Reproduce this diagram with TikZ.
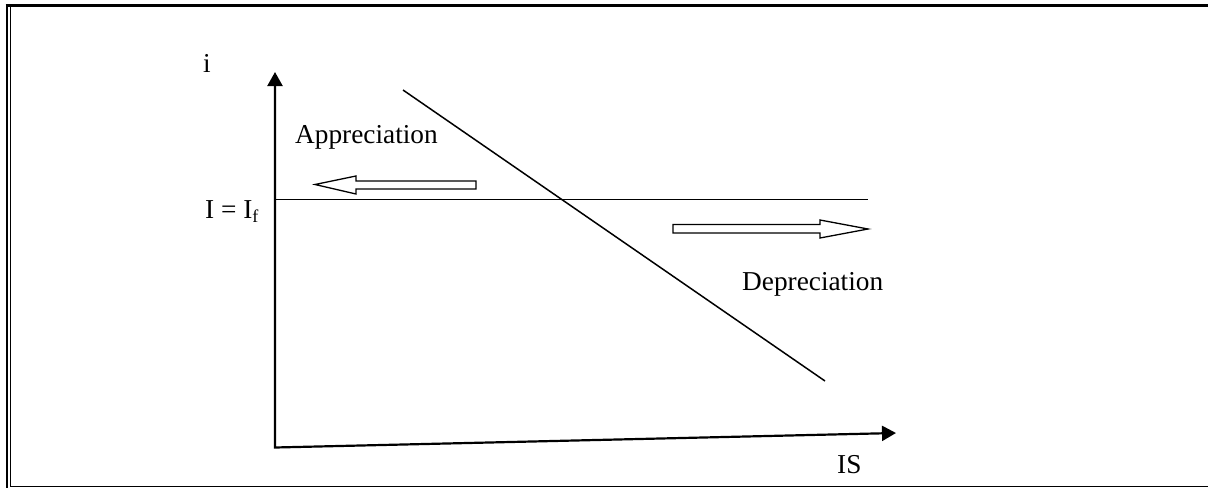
\documentclass[tikz,border=0pt]{standalone}
\usepackage{fontspec}
\setmainfont{Liberation Serif}
\usetikzlibrary{arrows.meta}
\begin{document}
\begin{tikzpicture}[x=1pt,y=-1pt,
  axis/.style={line width=2.2pt,line join=miter,{Triangle[length=14pt,width=15pt]}-{Triangle[length=14pt,width=15pt]}},
  curve/.style={line width=1.5pt},
  hollow/.style={draw,line width=1.3pt,fill=white,line join=miter},
  lbl/.style={font=\fontsize{27.3}{32}\selectfont, inner sep=0pt}]
\useasboundingbox (0,0) rectangle (1208,488);
% frame
\draw[line width=3pt] (5.5,5.5) -- (1208,5.5);
\draw[line width=2.3pt] (7,4) -- (7,488);
\draw[line width=1.3pt] (10.5,7) -- (10.5,486.8) -- (1208,486.8);
% axes
\coordinate (O) at (275,447.5);
\coordinate (Ytip) at (275,72);
\coordinate (Xtip) at (896,433);
\draw[axis] (Ytip) -- (O) -- (Xtip);
% lines
\coordinate (H0) at (275,199.5);
\coordinate (H1) at (868,199.5);
\draw[curve] (H0) -- (H1);
\coordinate (D0) at (403,90);
\coordinate (D1) at (825,381);
\draw[curve] (D0) -- (D1);
% hollow arrows
\draw[hollow] (315,184.5) -- (356,176) -- (356,181) -- (476,181) -- (476,189) -- (356,189) -- (356,194) -- cycle;
\draw[hollow] (868,229) -- (820,220) -- (820,224.5) -- (673,224.5) -- (673,233) -- (820,233) -- (820,238) -- cycle;
% labels
\node[lbl,anchor=base] (li) at (207,72) {i};
\node[lbl,anchor=base west] (lapp) at (295,143) {Appreciation};
\node[lbl,anchor=base west] (lif) at (205,218) {I = I\raisebox{-4pt}{\fontsize{18}{18}\selectfont f}};
\node[lbl,anchor=base west] (ldep) at (742,290) {Depreciation};
\node[lbl,anchor=base west] (lis) at (837,473) {IS};
\end{tikzpicture}
\end{document}
